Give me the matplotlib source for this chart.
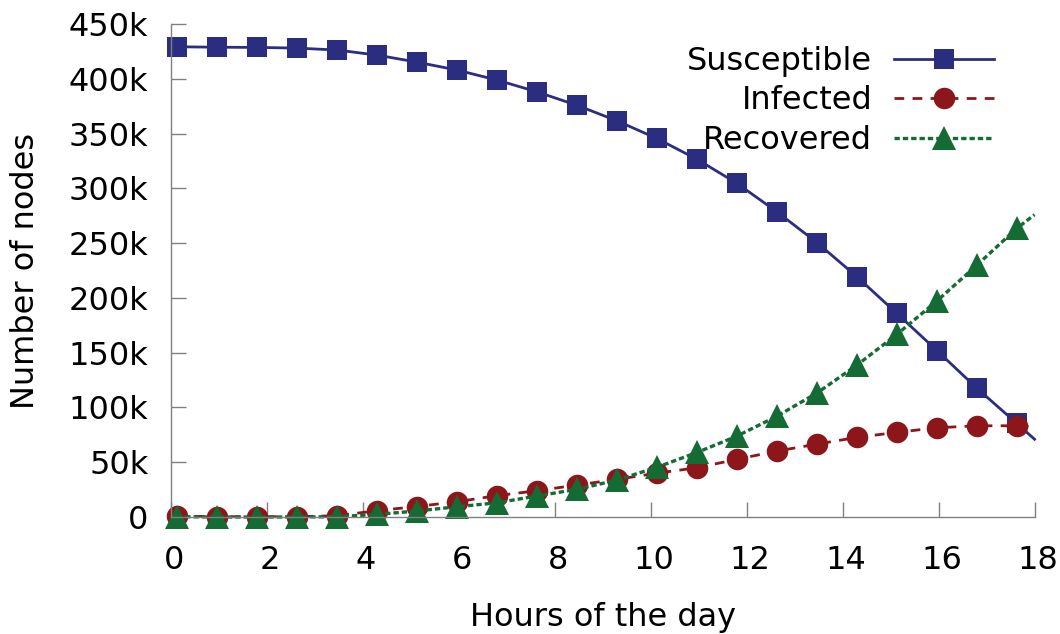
import matplotlib
matplotlib.use("Agg")
import matplotlib.pyplot as plt
from matplotlib.ticker import FuncFormatter, MultipleLocator
from matplotlib.transforms import ScaledTranslation

# marker sample times (hours) and node counts in thousands
hours = [0.13, 0.97, 1.80, 2.63, 3.47, 4.30, 5.13, 5.97, 6.80, 7.63, 8.47,
         9.30, 10.13, 10.97, 11.80, 12.63, 13.47, 14.30, 15.13, 15.97, 16.80, 17.63]
susceptible = [429.3, 428.9, 428.7, 428.1, 426.3, 421.7, 415.3, 408.0, 398.9, 388.2, 375.8,
               361.7, 345.6, 326.5, 304.6, 278.7, 250.4, 219.3, 185.9, 151.8, 117.5, 85.5]
infected = [0.9, 0.3, 0.3, 0.3, 1.2, 5.8, 9.6, 14.0, 19.5, 24.0, 29.2,
            34.4, 40.0, 45.0, 52.7, 60.2, 66.6, 72.7, 77.3, 81.5, 83.3, 83.3]
recovered = [0.3, 0.0, 0.0, 0.0, 0.3, 2.4, 5.5, 9.4, 13.0, 19.2, 25.3,
             33.8, 45.4, 59.0, 73.9, 92.0, 113.3, 138.7, 166.7, 197.4, 230.0, 263.5]

# last simulated sample, drawn as line only
end_hour = 18.0
end_values = {"Susceptible": 71.0, "Infected": 82.5, "Recovered": 276.0}

# name, values, colour, linewidth, dash style, marker, marker size
series = [
    ("Susceptible", susceptible, "#2b2d80", 2.0, "-", "s", 15),
    ("Infected", infected, "#8c161a", 2.0, (0, (3.5, 3.0)), "o", 15.5),
    ("Recovered", recovered, "#156b34", 2.4, (0, (1.6, 0.9)), "^", 17),
]

FS = 23
plt.rcParams["font.family"] = "DejaVu Sans"
plt.rcParams["font.size"] = FS

fig = plt.figure(figsize=(10.6, 6.34), dpi=100)
ax = fig.add_axes([0.161, 0.1845, 0.815, 0.7775])

for name, vals, color, lw, ls, mk, ms in series:
    xs = hours + [end_hour]
    ys = [v * 1000 for v in vals] + [end_values[name] * 1000]
    ax.plot(xs, ys, color=color, lw=lw, linestyle=ls, marker=mk, markersize=ms,
            markevery=slice(0, len(hours)), markeredgewidth=0, label=name,
            clip_on=False)

ax.set_xlim(0, 18)
ax.set_ylim(0, 450000)
ax.xaxis.set_major_locator(MultipleLocator(2))
ax.yaxis.set_major_locator(MultipleLocator(50000))
ax.yaxis.set_major_formatter(FuncFormatter(lambda v, p: "0" if v == 0 else f"{int(v / 1000)}k"))

for side in ("top", "right"):
    ax.spines[side].set_visible(False)
for side in ("left", "bottom"):
    ax.spines[side].set_color("#808080")
    ax.spines[side].set_linewidth(1.0)

ax.tick_params(axis="both", direction="in", length=11, width=1, color="#808080", labelsize=FS)
ax.tick_params(axis="y", pad=16)
ax.tick_params(axis="x", pad=20)
shift = ScaledTranslation(3 / 100, 0, fig.dpi_scale_trans)
for lbl in ax.get_xticklabels():
    lbl.set_transform(lbl.get_transform() + shift)

ax.set_xlabel("Hours of the day", fontsize=FS)
ax.set_ylabel("Number of nodes", fontsize=FS)
ax.xaxis.set_label_coords(0.5, -0.172)
ax.yaxis.set_label_coords(-0.15, 0.5)

leg = ax.legend(loc="upper right", bbox_to_anchor=(0.953, 0.956), frameon=False,
                markerfirst=False, numpoints=1, handlelength=3.13, handletextpad=0.68,
                labelspacing=0.27, borderpad=0, borderaxespad=0, fontsize=FS)

fig.savefig("out.png", dpi=100)
